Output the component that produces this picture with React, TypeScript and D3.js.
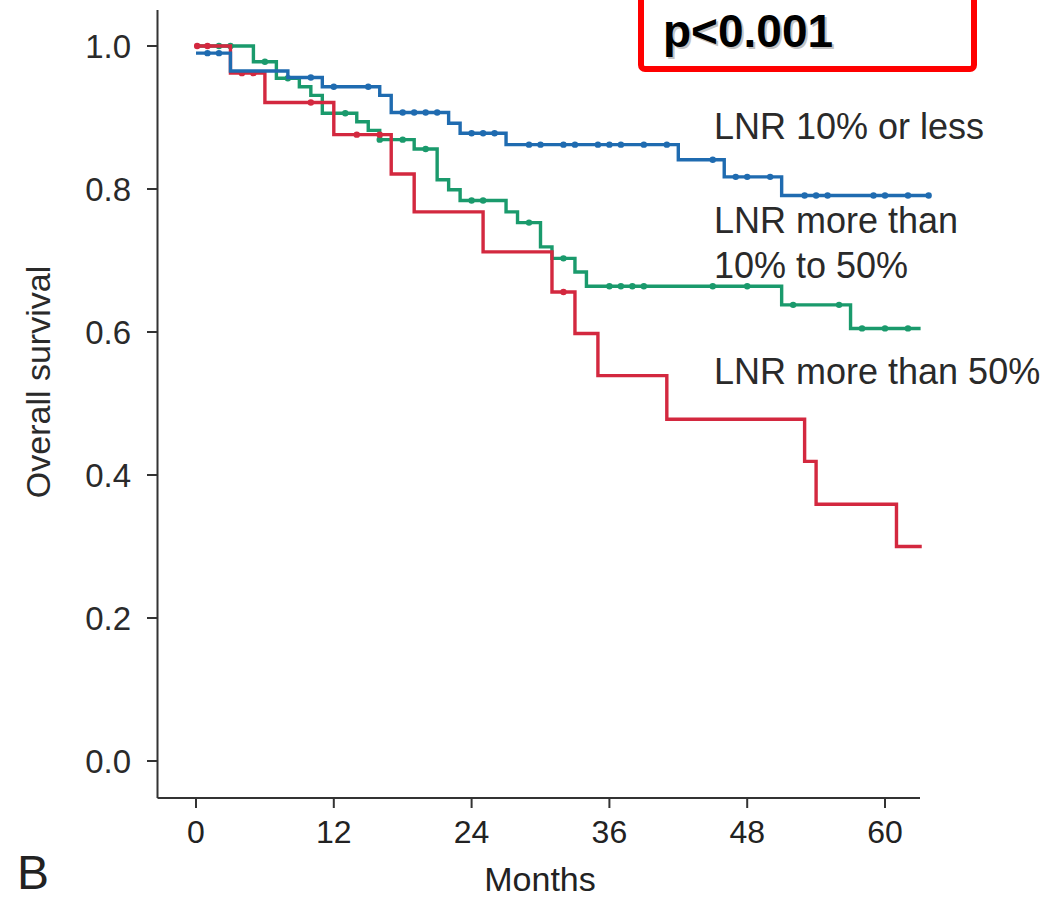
import React from "react";
import * as d3 from "d3";

// ---- data ----
const blueTimes = [0, 3, 8, 11, 16, 17, 22, 23, 27, 42, 46, 51];
const blueSurv = [0.99, 0.965, 0.956, 0.943, 0.931, 0.907, 0.892, 0.878, 0.862, 0.841, 0.817, 0.791];
const blueCensor = [1, 2, 10, 12, 15, 18, 19, 20, 21, 24, 25, 26, 29, 30, 32, 33, 35, 36, 37, 39, 41, 45, 47, 48, 50, 53, 54, 55, 59, 60, 62, 63.8];
const blueEnd = 63.8;

const greenTimes = [0, 5, 7, 9, 10, 11, 14, 15, 16, 19, 21, 22, 23, 27, 28, 30, 31, 33, 34, 51, 57];
const greenSurv = [1.0, 0.978, 0.955, 0.943, 0.931, 0.906, 0.894, 0.882, 0.869, 0.856, 0.813, 0.799, 0.784, 0.768, 0.753, 0.719, 0.703, 0.684, 0.664, 0.638, 0.605];
const greenCensor = [2, 3, 6, 8, 13, 16, 18, 20, 24, 25, 29, 32, 36, 37, 38, 39, 45, 48, 52, 56, 58, 60, 62];
const greenEnd = 63.1;

const redTimes = [0, 3, 6, 12, 17, 19, 25, 31, 33, 35, 41, 53, 54, 61];
const redSurv = [1.0, 0.962, 0.921, 0.876, 0.821, 0.768, 0.712, 0.656, 0.598, 0.539, 0.478, 0.419, 0.359, 0.3];
const redCensor = [0.1, 1, 4, 5, 10, 14, 16, 32];
const redEnd = 63.2;

const xTicks = [0, 12, 24, 36, 48, 60];
const yTicks = [0, 0.2, 0.4, 0.6, 0.8, 1.0];

const groupNames = ["LNR 10% or less", "LNR more than 50%"];
const pText = "p<0.001";

const BLUE = "#1f6bb0";
const GREEN = "#1a9a6c";
const RED = "#d3283f";

const W = 1051;
const H = 898;

const x = d3.scaleLinear().domain([0, 60]).range([196, 885]);
const y = d3.scaleLinear().domain([0, 1]).range([761, 46]);

function survAt(times: number[], surv: number[], t: number) {
  let s = surv[0];
  for (let i = 0; i < times.length; i++) if (times[i] <= t) s = surv[i];
  return s;
}

function stepPath(times: number[], surv: number[], end: number) {
  const pts: [number, number][] = times.map((t, i) => [t, surv[i]]);
  pts.push([end, surv[surv.length - 1]]);
  const line = d3
    .line<[number, number]>()
    .x((d) => x(d[0]))
    .y((d) => y(d[1]))
    .curve(d3.curveStepAfter);
  return line(pts) || "";
}

const series = [
  { times: greenTimes, surv: greenSurv, censor: greenCensor, end: greenEnd, color: GREEN },
  { times: redTimes, surv: redSurv, censor: redCensor, end: redEnd, color: RED },
  { times: blueTimes, surv: blueSurv, censor: blueCensor, end: blueEnd, color: BLUE },
];

const FONT = "'Liberation Sans', Arial, Helvetica, sans-serif";

export default function App() {
  const axisColor = "#333";
  return (
    <svg width={W} height={H} style={{ position: "absolute", left: 0, top: 0, background: "#fff" }}>
      <rect x={0} y={0} width={W} height={H} fill="#fff" />
      {/* axes */}
      <line x1={157.5} x2={157.5} y1={10} y2={798} stroke={axisColor} strokeWidth={2} />
      <line x1={157.5} x2={920} y1={798} y2={798} stroke={axisColor} strokeWidth={2} />
      {yTicks.map((t) => (
        <g key={"y" + t}>
          <line x1={147} x2={157.5} y1={y(t)} y2={y(t)} stroke={axisColor} strokeWidth={2} />
          <text x={131} y={y(t)} dy="0.36em" textAnchor="end" fontFamily={FONT} fontSize={33} fill="#2a2a2a">
            {t.toFixed(1)}
          </text>
        </g>
      ))}
      {xTicks.map((t) => (
        <g key={"x" + t}>
          <line x1={x(t)} x2={x(t)} y1={798} y2={808} stroke={axisColor} strokeWidth={2} />
          <text x={x(t)} y={843} textAnchor="middle" fontFamily={FONT} fontSize={32} fill="#222">
            {t}
          </text>
        </g>
      ))}
      <text x={540} y={891} textAnchor="middle" fontFamily={FONT} fontSize={34} fill="#222">
        Months
      </text>
      <text
        transform="translate(50,382) rotate(-90)"
        textAnchor="middle"
        fontFamily={FONT}
        fontSize={34}
        fill="#2a2a2a"
      >
        Overall survival
      </text>
      <text x={17} y={889} fontFamily={FONT} fontSize={48} fill="#222">
        B
      </text>

      {/* curves */}
      {series.map((s, i) => (
        <g key={"s" + i}>
          <path d={stepPath(s.times, s.surv, s.end)} fill="none" stroke={s.color} strokeWidth={3.4} />
          {s.censor.map((c, j) => (
            <circle key={j} cx={x(c)} cy={y(survAt(s.times, s.surv, c))} r={3.2} fill={s.color} />
          ))}
        </g>
      ))}

      {/* labels */}
      <text x={714} y={139} fontFamily={FONT} fontSize={36} fill="#2a2a2a">
        {groupNames[0]}
      </text>
      <text x={714} y={233} fontFamily={FONT} fontSize={36} fill="#2a2a2a">
        LNR more than
      </text>
      <text x={714} y={278} fontFamily={FONT} fontSize={36} fill="#2a2a2a">
        10% to 50%
      </text>
      <text x={714} y={384} fontFamily={FONT} fontSize={36} fill="#2a2a2a">
        {groupNames[1]}
      </text>

      {/* p-value box */}
      <rect x={641} y={-6} width={333} height={75} rx={4} fill="#fff" stroke="#ff0000" strokeWidth={6} />
      <text x={665} y={49} fontFamily={FONT} fontWeight="bold" fontSize={46} fill="#888" opacity={0.5}>
        {pText}
      </text>
      <text x={663} y={47} fontFamily={FONT} fontWeight="bold" fontSize={46} fill="#000">
        {pText}
      </text>
    </svg>
  );
}
